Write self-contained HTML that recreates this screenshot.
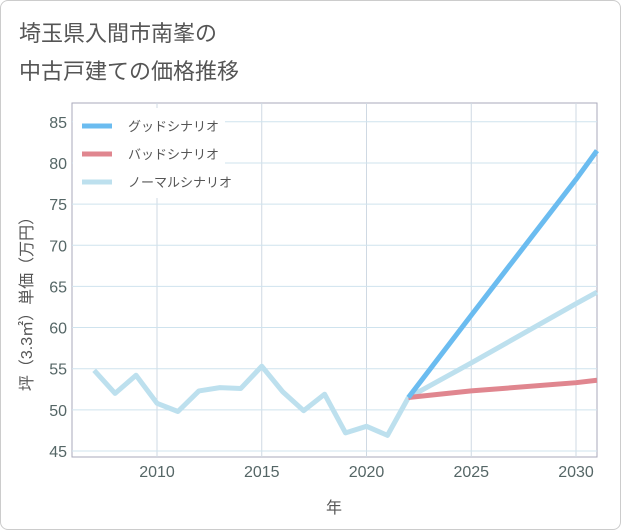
<!DOCTYPE html>
<html><head><meta charset="utf-8"><style>
body{margin:0;background:#fff;font-family:"Liberation Sans","Noto Sans CJK JP",sans-serif;}
#card{position:absolute;left:0;top:0;width:619px;height:528px;border:1px solid #ccc;border-radius:8px;background:#fff;}
.title{position:absolute;left:18px;font-size:22px;color:#555;}
</style></head><body>
<div id="card">
<div class="title" style="top:15px">埼玉県入間市南峯の</div>
<div class="title" style="top:53px">中古戸建ての価格推移</div>
</div>
<svg id="chart" width="621" height="530" style="position:absolute;left:0;top:0"></svg>
<script>
const years=[2007,2008,2009,2010,2011,2012,2013,2014,2015,2016,2017,2018,2019,2020,2021,2022];
const normalHist=[54.8,52.0,54.2,50.8,49.8,52.3,52.7,52.6,55.3,52.2,49.9,51.9,47.2,48.0,46.9,51.5];
const projYears=[2022,2025,2030,2031];
const goodVals=[51.5,61.5,78.0,81.5];
const badVals=[51.5,52.3,53.3,53.6];
const normalVals=[51.5,55.7,62.9,64.3];
const xTicks=[2010,2015,2020,2025,2030];
const yTicks=[45,50,55,60,65,70,75,80,85];
const NS="http://www.w3.org/2000/svg";
const svg=document.getElementById('chart');
const L=72,R=597,T=103,B=457;
const x=y=>157+(y-2010)*20.95;
const yv=v=>451-(v-45)*8.23;
function el(t,a,p){const e=document.createElementNS(NS,t);for(const k in a)e.setAttribute(k,a[k]);(p||svg).appendChild(e);return e;}
el('rect',{x:L,y:T,width:R-L,height:B-T,fill:'#fff',stroke:'#aab',"stroke-width":1});
xTicks.forEach(t=>{const g=el('line',{x1:x(t),x2:x(t),y1:T,y2:B,stroke:'#cfd9e3'});

const s=el('text',{x:x(t),y:477,"text-anchor":"middle","font-size":16,fill:'#566'});s.textContent=t;
});
yTicks.forEach(t=>{const g=el('line',{x1:L,x2:R,y1:yv(t),y2:yv(t),stroke:'#cfe3ee'});

const s=el('text',{x:67,y:yv(t)+6,"text-anchor":"end","font-size":16,fill:'#566'});s.textContent=t;
});
function line(xs,vs,c,name){const p=el('polyline',{points:xs.map((a,i)=>x(a)+','+yv(vs[i])).join(' '),fill:'none',stroke:c,"stroke-width":5,"stroke-linejoin":"round"});
}
line(years,normalHist,'#bde0ee','normal-history-line');
line(projYears,normalVals,'#bde0ee','normal-scenario-line');
line(projYears,badVals,'#e0868f','bad-scenario-line');
line(projYears,goodVals,'#6bbcf0','good-scenario-line');
const lg=el('rect',{x:73,y:108,width:152,height:90,fill:'#fff'});

[['グッドシナリオ','#6bbcf0',126],['バッドシナリオ','#e0868f',154],['ノーマルシナリオ','#bde0ee',182]].forEach(a=>{
const l=el('line',{x1:82,x2:112,y1:a[2],y2:a[2],stroke:a[1],"stroke-width":5});

const s=el('text',{x:128,y:a[2]+5,"font-size":13,fill:'#555'});s.textContent=a[0];
});
const xt=el('text',{x:334,y:513,"text-anchor":"middle","font-size":16,fill:'#555'});xt.textContent='年';

const yt=el('text',{x:0,y:0,"text-anchor":"middle","font-size":16,fill:'#555',transform:'translate(32,300) rotate(-90)'});yt.textContent='坪（3.3㎡）単価（万円）';

</script>
</body></html>
